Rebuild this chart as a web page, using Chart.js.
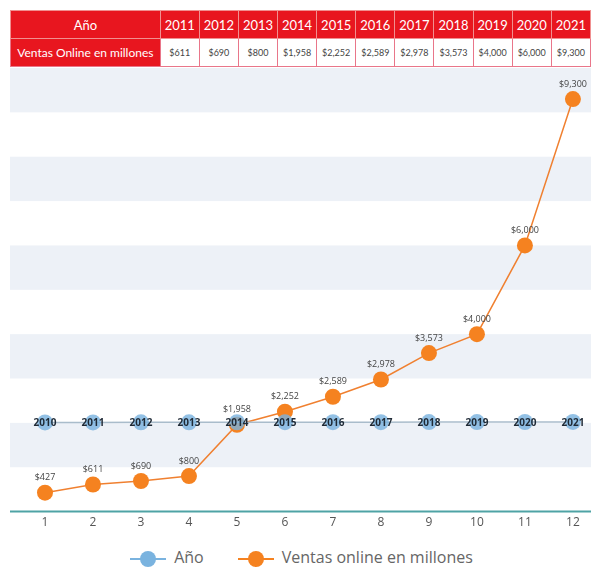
<!DOCTYPE html>
<html>
<head>
<meta charset="utf-8">
<script src="https://cdn.jsdelivr.net/npm/chart.js@4/dist/chart.umd.min.js"></script>
<style>
  body { margin: 0; background: #fff; width: 591px; height: 568px; overflow: hidden; font-family: Lato, "Open Sans", sans-serif; }
  #tabla { position: absolute; left: 10px; top: 10px; border-collapse: collapse; table-layout: fixed; }
  #tabla td { height: 27px; padding: 0; text-align: center; border: 1px solid #e9768a; }
  #tabla tr.cab td { background: #e8161f; color: #fff; font-size: 13px; border-color: #f09090; }
  #tabla td.primera { background: #e8161f; color: #fff; font-size: 12px; width: 155px; }
  #tabla td.valor { color: #444; font-size: 9px; background: #fff; }
  #grafico { position: absolute; left: 0; top: 60px; width: 591px; height: 480px; }
  #leyenda { position: absolute; left: 6px; top: 545px; width: 591px; text-align: center; font-size: 16px; color: #666; font-family: "Open Sans", sans-serif; }
  #leyenda span.item { display: inline-block; margin: 0 17px; vertical-align: middle; }
  #leyenda span.marca { display: inline-block; position: relative; width: 36px; height: 20px; vertical-align: middle; margin-right: 8px; }
  #leyenda span.linea { position: absolute; left: 0; right: 0; top: 9px; height: 2px; }
  #leyenda span.punto { position: absolute; left: 10px; top: 2px; width: 16px; height: 16px; border-radius: 50%; }
</style>
</head>
<body>
<table id="tabla"></table>
<div id="grafico"><canvas id="lienzo"></canvas></div>
<div id="leyenda"></div>
<script>
// datos
const categorias = [1, 2, 3, 4, 5, 6, 7, 8, 9, 10, 11, 12];
const anios = [2010, 2011, 2012, 2013, 2014, 2015, 2016, 2017, 2018, 2019, 2020, 2021];
const ventas = [427, 611, 690, 800, 1958, 2252, 2589, 2978, 3573, 4000, 6000, 9300];

// tabla de arriba (del 2011 en adelante)
const tablaAnios = anios.slice(1);
const tablaVentas = ventas.slice(1);

const formato = v => '$' + v.toLocaleString('en-US');

const tabla = document.getElementById('tabla');
let fila1 = '<tr class="cab"><td class="primera">Año</td>';
tablaAnios.forEach(a => { fila1 += '<td style="width:38.6px">' + a + '</td>'; });
fila1 += '</tr>';
let fila2 = '<tr><td class="primera">Ventas Online en millones</td>';
tablaVentas.forEach(v => { fila2 += '<td class="valor">' + formato(v) + '</td>'; });
fila2 += '</tr>';
tabla.innerHTML = fila1 + fila2;

// franjas de fondo alternadas + linea del eje
const franjas = {
  id: 'franjas',
  beforeDraw(chart) {
    const { ctx, chartArea, scales } = chart;
    const y = scales.y;
    const ancho = chart.width - chartArea.left;
    ctx.save();
    ctx.fillStyle = '#edf1f7';
    for (let v = 0; v < y.max; v += 1000) {
      if ((v / 1000) % 2 === 1) {
        const top = y.getPixelForValue(v + 1000);
        const bottom = y.getPixelForValue(v);
        ctx.fillRect(chartArea.left, top, ancho, bottom - top);
      }
    }
    ctx.strokeStyle = '#4fa3a5';
    ctx.lineWidth = 2;
    ctx.beginPath();
    ctx.moveTo(chartArea.left, chartArea.bottom);
    ctx.lineTo(chart.width, chartArea.bottom);
    ctx.stroke();
    ctx.restore();
  }
};

// etiquetas de los puntos
const etiquetas = {
  id: 'etiquetas',
  afterDatasetsDraw(chart) {
    const { ctx } = chart;
    ctx.save();
    ctx.textAlign = 'center';
    ctx.textBaseline = 'middle';
    chart.data.datasets.forEach((ds, i) => {
      const meta = chart.getDatasetMeta(i);
      meta.data.forEach((p, j) => {
        if (i === 0) {
          ctx.font = 'bold 10px "Open Sans", sans-serif';
          ctx.fillStyle = '#1f2a36';
          ctx.fillText(ds.data[j].y, p.x, p.y + 1);
        } else {
          ctx.font = '9px "Open Sans", sans-serif';
          ctx.fillStyle = '#444';
          ctx.fillText(formato(ds.data[j].y), p.x, p.y - 15);
        }
      });
    });
    ctx.restore();
  }
};

const chart = new Chart(document.getElementById('lienzo'), {
  type: 'line',
  data: {
    datasets: [
      {
        label: 'Año',
        data: categorias.map((c, i) => ({ x: c, y: anios[i] })),
        borderColor: '#a9bccb',
        backgroundColor: 'rgba(120, 178, 222, 0.8)',
        borderWidth: 1.5,
        pointRadius: 8,
        pointBorderWidth: 0,
        pointHoverRadius: 8,
        legendColor: '#7ab3df'
      },
      {
        label: 'Ventas online en millones',
        data: categorias.map((c, i) => ({ x: c, y: ventas[i] })),
        borderColor: '#f08030',
        backgroundColor: '#f58220',
        borderWidth: 1.5,
        pointRadius: 8,
        pointBorderWidth: 0,
        pointHoverRadius: 8,
        legendColor: '#f58220'
      }
    ]
  },
  options: {
    responsive: true,
    maintainAspectRatio: false,
    animation: false,
    clip: false,
    layout: { padding: { top: 1, left: 10, right: 0, bottom: 6 } },
    plugins: {
      legend: { display: false },
      tooltip: { enabled: false }
    },
    scales: {
      x: {
        type: 'linear',
        min: 0.271,
        max: 12.21,
        grid: { display: false, drawTicks: false },
        border: { display: false },
        afterBuildTicks: axis => { axis.ticks = categorias.map(c => ({ value: c })); },
        ticks: {
          autoSkip: false,
          maxRotation: 0,
          padding: 4,
          color: '#555',
          font: { size: 12, family: '"Open Sans", sans-serif' }
        }
      },
      y: {
        display: false,
        min: 0,
        max: 10000
      }
    }
  },
  plugins: [franjas, etiquetas]
});

// leyenda abajo
const leyenda = document.getElementById('leyenda');
leyenda.innerHTML = chart.data.datasets.map(ds =>
  '<span class="item"><span class="marca"><span class="linea" style="background:' + ds.legendColor + '"></span>' +
  '<span class="punto" style="background:' + ds.legendColor + '"></span></span>' + ds.label + '</span>'
).join('');
</script>
</body>
</html>
